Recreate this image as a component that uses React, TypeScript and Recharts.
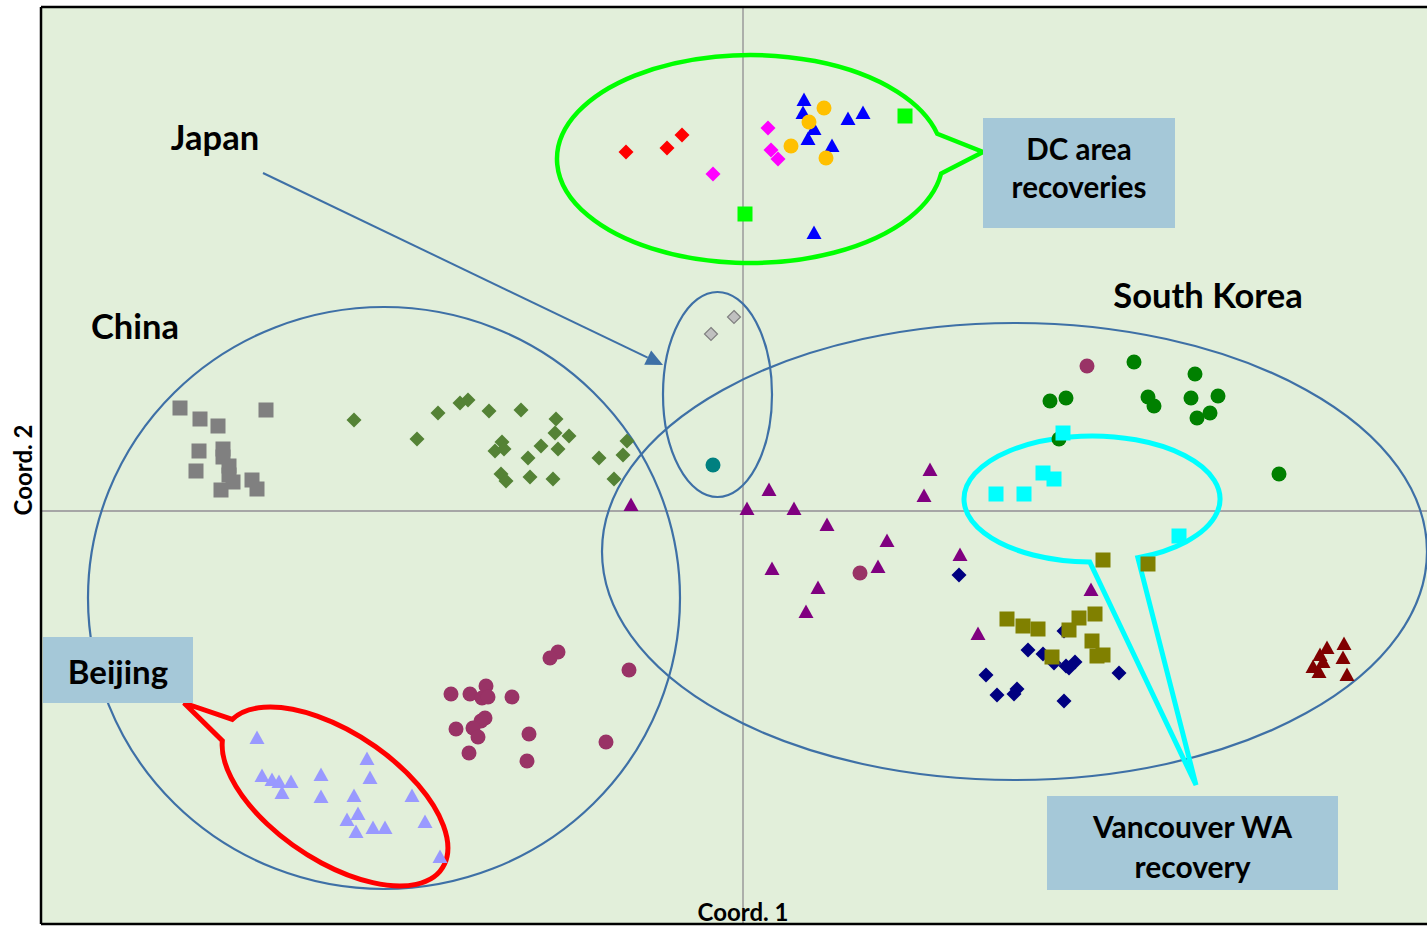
import React from 'react';
import { ScatterChart, Scatter, XAxis, YAxis, ReferenceArea } from 'recharts';

// ---- data (Coord. 1, Coord. 2) ----
const dcRed = [[-1.17, 3.59], [-0.76, 3.63], [-0.61, 3.76]];
const dcMagenta = [[-0.30, 3.37], [0.25, 3.83], [0.28, 3.61], [0.35, 3.52]];
const dcLime = [[0.02, 2.97], [1.62, 3.95]];
const dcBlue = [[0.61, 4.11], [0.60, 3.98], [0.71, 3.82], [0.65, 3.72], [0.89, 3.65], [1.05, 3.92], [1.20, 3.98], [0.71, 2.78]];
const dcOrange = [[0.81, 4.03], [0.66, 3.89], [0.48, 3.65], [0.83, 3.53]];
const japanGray = [[-0.32, 1.77], [-0.09, 1.94]];
const japanTeal = [[-0.30, 0.46]];
const chinaGray = [[-5.63, 1.03], [-5.43, 0.92], [-5.25, 0.85], [-4.77, 1.01], [-5.44, 0.60], [-5.20, 0.62], [-5.20, 0.54], [-5.14, 0.45], [-5.47, 0.40], [-5.14, 0.36], [-5.10, 0.29], [-4.91, 0.31], [-4.86, 0.22], [-5.22, 0.21]];
const chinaGreen = [[-3.89, 0.91], [-3.26, 0.72], [-3.05, 0.98], [-2.83, 1.08], [-2.75, 1.11], [-2.54, 1.00], [-2.22, 1.01], [-1.87, 0.92], [-1.88, 0.78], [-1.74, 0.75], [-2.41, 0.69], [-2.48, 0.60], [-2.39, 0.62], [-2.02, 0.65], [-1.85, 0.62], [-2.15, 0.53], [-2.42, 0.37], [-2.37, 0.30], [-2.13, 0.34], [-1.90, 0.32], [-1.44, 0.53], [-1.20, 0.56], [-1.16, 0.70], [-1.29, 0.32]];
const purpleTri = [[-1.12, 0.06], [0.26, 0.21], [0.04, 0.02], [0.51, 0.02], [0.84, -0.14], [1.44, -0.30], [1.35, -0.56], [0.29, -0.58], [0.75, -0.77], [0.63, -1.01], [1.87, 0.41], [1.81, 0.15], [2.17, -0.44], [3.48, -0.79], [2.35, -1.23]];
const maroonCircle = [[1.17, -0.62], [3.44, 1.45], [-1.85, -1.41], [-1.93, -1.47], [-1.14, -1.59], [-2.92, -1.83], [-2.73, -1.83], [-2.57, -1.75], [-2.61, -1.87], [-2.55, -1.86], [-2.31, -1.86], [-2.58, -2.07], [-2.62, -2.10], [-2.70, -2.17], [-2.87, -2.18], [-2.65, -2.26], [-2.14, -2.23], [-2.74, -2.42], [-2.16, -2.50], [-1.37, -2.31]];
const navyDiamond = [[2.16, -0.64], [2.85, -1.39], [3.00, -1.43], [3.11, -1.52], [3.23, -1.55], [3.26, -1.57], [3.32, -1.51], [3.21, -1.20], [2.43, -1.64], [2.54, -1.84], [2.71, -1.83], [2.74, -1.78], [3.21, -1.90], [3.76, -1.62]];
const oliveSquare = [[3.60, -0.49], [4.05, -0.53], [2.64, -1.08], [2.80, -1.15], [2.95, -1.18], [3.26, -1.19], [3.36, -1.07], [3.52, -1.03], [3.49, -1.30], [3.09, -1.46], [3.54, -1.45], [3.60, -1.44]];
const darkRedTri = [[5.84, -1.37], [5.77, -1.44], [5.80, -1.51], [5.70, -1.56], [5.76, -1.61], [6.01, -1.33], [6.00, -1.47], [6.04, -1.64]];
const greenCircle = [[3.91, 1.49], [4.52, 1.37], [3.07, 1.10], [3.23, 1.13], [4.05, 1.14], [4.11, 1.05], [4.48, 1.13], [4.75, 1.15], [4.54, 0.93], [4.67, 0.98], [3.16, 0.72], [5.36, 0.37]];
const cyanSquare = [[3.20, 0.78], [3.00, 0.38], [3.11, 0.32], [2.81, 0.17], [2.53, 0.17], [4.36, -0.25]];
const beijingTri = [[-4.86, -2.27], [-4.81, -2.65], [-4.71, -2.69], [-4.64, -2.71], [-4.52, -2.71], [-4.61, -2.82], [-4.22, -2.64], [-4.22, -2.86], [-3.76, -2.48], [-3.73, -2.67], [-3.89, -2.85], [-3.85, -3.03], [-3.96, -3.09], [-3.87, -3.21], [-3.70, -3.17], [-3.58, -3.17], [-3.31, -2.85], [-3.18, -3.11], [-3.03, -3.46]];

// ---- annotation texts ----
const regionLabels = [
  { text: 'Japan', x: -5.28, y: 3.75 },
  { text: 'China', x: -6.08, y: 1.86 },
  { text: 'South Korea', x: 4.65, y: 2.17 },
];
const boxes = [
  { lines: ['DC area', 'recoveries'], x1: 2.40, x2: 4.32, y1: 2.83, y2: 3.93, ly: [3.63, 3.25], size: 29.5 },
  { lines: ['Beijing'], x1: -7.0, x2: -5.50, y1: -1.92, y2: -1.26, ly: [-1.60], size: 33 },
  { lines: ['Vancouver WA', 'recovery'], x1: 3.04, x2: 5.95, y1: -3.79, y2: -2.85, ly: [-3.15, -3.55], size: 30 },
];

const XMIN = -7.02, XMAX = 6.84, YMIN = -4.13, YMAX = 5.04;
const BLUE_LINE = '#3e70a6';
const FONT = 'Lato, "Open Sans", sans-serif';

const toPts = (a: number[][]) => a.map(([x, y]) => ({ x, y }));

const marker = (kind: string, fill: string, size = 15, stroke?: string) => (props: any) => {
  const { cx, cy } = props;
  if (cx == null || cy == null) return <g />;
  const h = size / 2;
  if (kind === 'circle') return <circle cx={cx} cy={cy} r={h} fill={fill} />;
  if (kind === 'square') return <rect x={cx - h} y={cy - h} width={size} height={size} fill={fill} />;
  if (kind === 'diamond')
    return <polygon points={`${cx},${cy - h} ${cx + h},${cy} ${cx},${cy + h} ${cx - h},${cy}`} fill={fill} stroke={stroke} strokeWidth={stroke ? 1.2 : 0} />;
  return <polygon points={`${cx},${cy - h} ${cx + h},${cy + h * 0.8} ${cx - h},${cy + h * 0.8}`} fill={fill} />;
};

const mapper = (p: any) => {
  const sx = p.width / (XMAX - XMIN);
  const sy = p.height / (YMAX - YMIN);
  return { X: (v: number) => p.x + (v - XMIN) * sx, Y: (v: number) => p.y + (YMAX - v) * sy, S: sx };
};

const ellPt = (cx: number, cy: number, rx: number, ry: number, rot: number, tDeg: number) => {
  const t = (tDeg * Math.PI) / 180, r = (rot * Math.PI) / 180;
  const ex = rx * Math.cos(t), ey = ry * Math.sin(t);
  return [cx + ex * Math.cos(r) - ey * Math.sin(r), cy + ex * Math.sin(r) + ey * Math.cos(r)];
};

const plainEllipses = [
  { cx: -3.59, cy: -0.87, rx: 2.96, ry: 2.91 },
  { cx: 2.715, cy: -0.405, rx: 4.125, ry: 2.285 },
  { cx: -0.255, cy: 1.165, rx: 0.545, ry: 1.025 },
];
const callouts = [
  { cx: 0.07, cy: 3.52, rx: 1.93, ry: 1.04, rot: 0, t1: 8, t2: 346, tipX: 2.40, tipY: 3.59, color: '#00ff00', w: 4.5 },
  { cx: 3.49, cy: 0.12, rx: 1.28, ry: 0.63, rot: 0, t1: 91, t2: 429, tipX: 4.53, tipY: -2.74, color: '#00ffff', w: 5 },
  { cx: -4.08, cy: -2.855, rx: 1.29, ry: 0.64, rot: 33.9, t1: 186, t2: 525, tipX: -5.59, tipY: -1.92, color: '#ff0000', w: 5 },
];
const arrow = { x1: -4.80, y1: 3.38, x2: -0.80, y2: 1.46 };

const BackLayer = (p: any) => {
  const { X, Y, S } = mapper(p);
  const ax = X(arrow.x1), ay = Y(arrow.y1), bx = X(arrow.x2), by = Y(arrow.y2);
  const ang = Math.atan2(by - ay, bx - ax);
  const L = 17, Wd = 8;
  const baseX = bx - L * Math.cos(ang), baseY = by - L * Math.sin(ang);
  const head = `${bx},${by} ${baseX - Wd * Math.sin(ang)},${baseY + Wd * Math.cos(ang)} ${baseX + Wd * Math.sin(ang)},${baseY - Wd * Math.cos(ang)}`;
  return (
    <g>
      <rect x={p.x} y={p.y} width={p.width} height={p.height} fill="#e2efda" />
      <line x1={X(0)} x2={X(0)} y1={p.y} y2={p.y + p.height} stroke="#9a9a9a" strokeWidth={1.5} />
      <line x1={p.x} x2={p.x + p.width} y1={Y(0)} y2={Y(0)} stroke="#a6a6a6" strokeWidth={2} />
      {plainEllipses.map((e, i) => (
        <ellipse key={i} cx={X(e.cx)} cy={Y(e.cy)} rx={e.rx * S} ry={e.ry * S} fill="none" stroke={BLUE_LINE} strokeWidth={2.2} />
      ))}
      {callouts.map((c, i) => {
        const cx = X(c.cx), cy = Y(c.cy), rx = c.rx * S, ry = c.ry * S;
        const a = ellPt(cx, cy, rx, ry, c.rot, c.t1), b = ellPt(cx, cy, rx, ry, c.rot, c.t2);
        const large = c.t2 - c.t1 > 180 ? 1 : 0;
        const d = `M${a[0]},${a[1]} A${rx},${ry} ${c.rot} ${large} 1 ${b[0]},${b[1]} L${X(c.tipX)},${Y(c.tipY)} Z`;
        return <path key={i} d={d} fill="none" stroke={c.color} strokeWidth={c.w} strokeLinejoin="miter" />;
      })}
      <line x1={ax} y1={ay} x2={baseX} y2={baseY} stroke={BLUE_LINE} strokeWidth={2} />
      <polygon points={head} fill={BLUE_LINE} />
    </g>
  );
};

const FrontLayer = (p: any) => {
  const { X, Y } = mapper(p);
  return (
    <g fontFamily={FONT} fontWeight={700} fill="#000">
      {boxes.map((b, i) => (
        <g key={i}>
          <rect x={X(b.x1)} y={Y(b.y2)} width={X(b.x2) - X(b.x1)} height={Y(b.y1) - Y(b.y2)} fill="#a5c8d8" />
          {b.lines.map((t, j) => (
            <text key={j} x={(X(b.x1) + X(b.x2)) / 2} y={Y(b.ly[j])} textAnchor="middle" dominantBaseline="central" fontSize={b.size} fill="#000">
              {t}
            </text>
          ))}
        </g>
      ))}
      {regionLabels.map((r, i) => (
        <text key={i} x={X(r.x)} y={Y(r.y)} textAnchor="middle" dominantBaseline="central" fontSize={34.5} fill="#000">
          {r.text}
        </text>
      ))}
      <text x={X(0)} y={p.y + p.height - 13} textAnchor="middle" dominantBaseline="central" fontSize={24} fill="#000">
        Coord. 1
      </text>
      <text x={22} y={Y(0.41)} textAnchor="middle" dominantBaseline="central" fontSize={24} fill="#000" transform={`rotate(-90 22 ${Y(0.41)})`}>
        Coord. 2
      </text>
      <line x1={p.x} x2={p.x} y1={p.y} y2={p.y + p.height} stroke="#000" strokeWidth={2.5} />
      <line x1={p.x} x2={p.x + p.width} y1={p.y} y2={p.y} stroke="#000" strokeWidth={2.5} />
      <line x1={p.x} x2={p.x + p.width} y1={p.y + p.height} y2={p.y + p.height} stroke="#000" strokeWidth={2.5} />
    </g>
  );
};

const series = [
  { data: chinaGray, kind: 'square', fill: '#808080' },
  { data: chinaGreen, kind: 'diamond', fill: '#548235' },
  { data: maroonCircle, kind: 'circle', fill: '#993366' },
  { data: beijingTri, kind: 'triangle', fill: '#9999ff' },
  { data: purpleTri, kind: 'triangle', fill: '#800080' },
  { data: navyDiamond, kind: 'diamond', fill: '#000080' },
  { data: oliveSquare, kind: 'square', fill: '#808000' },
  { data: darkRedTri, kind: 'triangle', fill: '#800000' },
  { data: greenCircle, kind: 'circle', fill: '#008000' },
  { data: cyanSquare, kind: 'square', fill: '#00ffff' },
  { data: japanGray, kind: 'diamond', fill: '#c0c0c0', size: 13, stroke: '#808080' },
  { data: japanTeal, kind: 'circle', fill: '#008080' },
  { data: dcRed, kind: 'diamond', fill: '#ff0000' },
  { data: dcMagenta, kind: 'diamond', fill: '#ff00ff' },
  { data: dcLime, kind: 'square', fill: '#00ff00' },
  { data: dcBlue, kind: 'triangle', fill: '#0000ff' },
  { data: dcOrange, kind: 'circle', fill: '#ffc000' },
];

export default function App() {
  return (
    <div style={{ position: 'absolute', left: 0, top: 0 }}>
      <ScatterChart width={1427} height={926} margin={{ top: 7, right: 0, bottom: 2, left: 41 }}>
        <XAxis type="number" dataKey="x" domain={[XMIN, XMAX]} hide allowDataOverflow />
        <YAxis type="number" dataKey="y" domain={[YMIN, YMAX]} hide allowDataOverflow />
        <ReferenceArea x1={XMIN} x2={XMAX} y1={YMIN} y2={YMAX} shape={BackLayer} ifOverflow="visible" />
        {series.map((s, i) => (
          <Scatter
            key={i}
            data={toPts(s.data)}
            shape={marker(s.kind, s.fill, (s as any).size ?? 15, (s as any).stroke)}
            isAnimationActive={false}
          />
        ))}
        <ReferenceArea x1={XMIN} x2={XMAX} y1={YMIN} y2={YMAX} shape={FrontLayer} ifOverflow="visible" />
      </ScatterChart>
    </div>
  );
}
